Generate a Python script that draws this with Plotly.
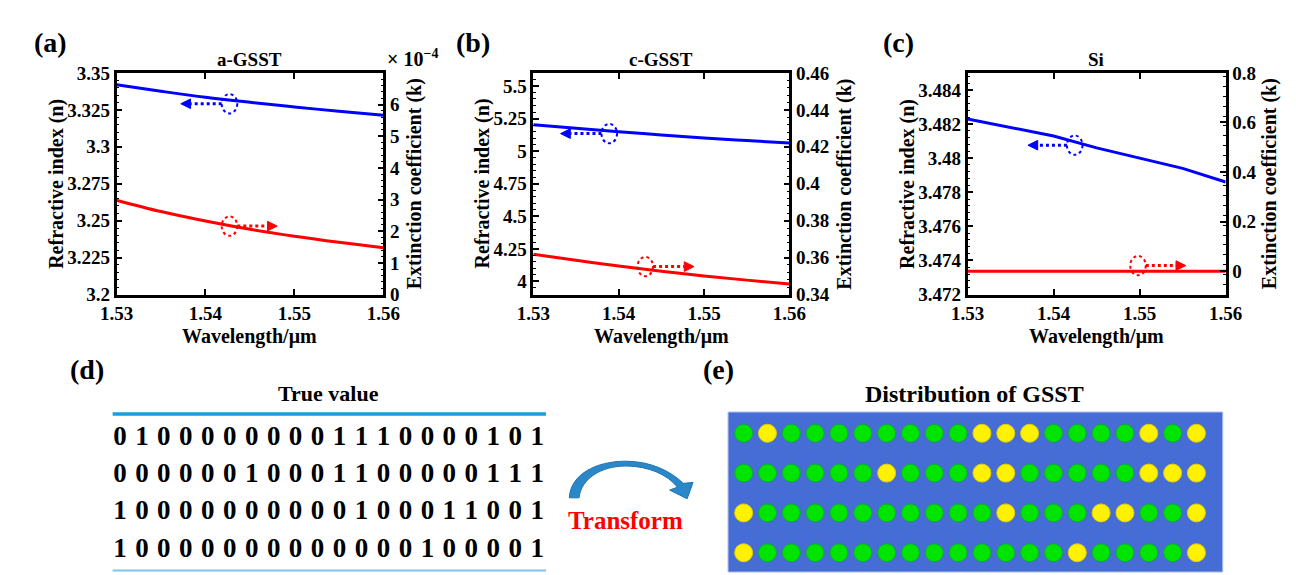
import plotly.graph_objects as go

W, H = 1296, 575

# ---------------- data ----------------
wavelength = [1.530, 1.535, 1.540, 1.545, 1.550, 1.555, 1.560]

n_a = [3.3420, 3.3376, 3.3335, 3.3301, 3.3270, 3.3240, 3.3213]
k_a_e4 = [2.98, 2.62, 2.32, 2.06, 1.84, 1.65, 1.48]  # x 10^-4

n_b = [5.203, 5.175, 5.149, 5.124, 5.100, 5.081, 5.063]
k_b = [0.3618, 0.3585, 0.3554, 0.3526, 0.3500, 0.3478, 0.3457]

n_c = [3.4823, 3.4818, 3.4813, 3.4806, 3.4800, 3.4794, 3.4786]
k_c = [0.0, 0.0, 0.0, 0.0, 0.0, 0.0, 0.0]

x_ticks = [1.53, 1.54, 1.55, 1.56]
x_ticktext = ["1.53", "1.54", "1.55", "1.56"]

na_ticks = [3.2, 3.225, 3.25, 3.275, 3.3, 3.325, 3.35]
na_ticktext = ["3.2", "3.225", "3.25", "3.275", "3.3", "3.325", "3.35"]
ka_ticks = [0, 1, 2, 3, 4, 5, 6]
ka_ticktext = ["0", "1", "2", "3", "4", "5", "6"]

nb_ticks = [4, 4.25, 4.5, 4.75, 5, 5.25, 5.5]
nb_ticktext = ["4", "4.25", "4.5", "4.75", "5", "5.25", "5.5"]
kb_ticks = [0.34, 0.36, 0.38, 0.40, 0.42, 0.44, 0.46]
kb_ticktext = ["0.34", "0.36", "0.38", "0.4", "0.42", "0.44", "0.46"]

nc_ticks = [3.472, 3.474, 3.476, 3.478, 3.480, 3.482, 3.484]
nc_ticktext = ["3.472", "3.474", "3.476", "3.478", "3.48", "3.482", "3.484"]
kc_ticks = [0, 0.2, 0.4, 0.6, 0.8]
kc_ticktext = ["0", "0.2", "0.4", "0.6", "0.8"]

bits_row1 = [0, 1, 0, 0, 0, 0, 0, 0, 0, 0, 1, 1, 1, 0, 0, 0, 0, 1, 0, 1]
bits_row2 = [0, 0, 0, 0, 0, 0, 1, 0, 0, 0, 1, 1, 0, 0, 0, 0, 0, 1, 1, 1]
bits_row3 = [1, 0, 0, 0, 0, 0, 0, 0, 0, 0, 0, 1, 0, 0, 0, 1, 1, 0, 0, 1]
bits_row4 = [1, 0, 0, 0, 0, 0, 0, 0, 0, 0, 0, 0, 0, 0, 1, 0, 0, 0, 0, 1]
bit_rows = [bits_row1, bits_row2, bits_row3, bits_row4]

# ---------------- helpers ----------------
def px(x):
    return x / W

def py(y):
    return 1 - y / H

FONT = "Liberation Serif, DejaVu Serif, serif"
BLUE = "#0000FF"
RED = "#FF0000"

fig = go.Figure()

# ---------------- top panels ----------------
panels = [
    (n_a, k_a_e4, "x", "y", "y2", "spline"),
    (n_b, k_b, "x2", "y3", "y4", "spline"),
    (n_c, k_c, "x3", "y5", "y6", "linear"),
]
for (nv, kv, xa, yl, yr, shp) in panels:
    fig.add_trace(go.Scatter(x=wavelength, y=nv, mode="lines", xaxis=xa, yaxis=yl,
                             line=dict(color=BLUE, width=3, shape=shp),
                             hoverinfo="skip"))
    fig.add_trace(go.Scatter(x=wavelength, y=kv, mode="lines", xaxis=xa, yaxis=yr,
                             line=dict(color=RED, width=3, shape=shp),
                             hoverinfo="skip"))

tickfont = dict(family=FONT, size=19, color="black", weight="bold")
ydom = [py(287), py(57)]

def xaxis_cfg(x0, x1, anchor):
    return dict(domain=[px(x0), px(x1)], anchor=anchor, range=[1.53, 1.56],
                tickmode="array", tickvals=x_ticks, ticktext=x_ticktext,
                showline=True, linewidth=2.5, linecolor="black", mirror="ticks",
                ticks="inside", ticklen=6, tickwidth=1.5, tickcolor="black",
                showgrid=False, zeroline=False, tickfont=tickfont)

def yaxis_cfg(anchor, rng, tv, tt, side="left", overlaying=None, minor_dt=None):
    d = dict(domain=ydom, anchor=anchor, range=rng, side=side,
             tickmode="array", tickvals=tv, ticktext=tt,
             showline=True, linewidth=2.5, linecolor="black",
             ticks="inside", ticklen=6, tickwidth=1.5, tickcolor="black",
             showgrid=False, zeroline=False, tickfont=tickfont)
    if overlaying:
        d["overlaying"] = overlaying
    if minor_dt:
        d["minor"] = dict(ticks="inside", ticklen=3, tickwidth=1, tickcolor="black",
                          tickmode="linear", tick0=rng[0], dtick=minor_dt)
    return d

layout = dict(
    width=W, height=H, margin=dict(l=0, r=0, t=0, b=0),
    paper_bgcolor="white", plot_bgcolor="rgba(0,0,0,0)", showlegend=False,
    font=dict(family=FONT, color="black"),
    xaxis=xaxis_cfg(94, 368, "y"),
    yaxis=yaxis_cfg("x", [3.2, 3.35], na_ticks, na_ticktext, minor_dt=0.005),
    yaxis2=yaxis_cfg("x", [0, 7], ka_ticks, ka_ticktext, side="right", overlaying="y", minor_dt=0.2),
    xaxis2=xaxis_cfg(522, 785, "y3"),
    yaxis3=yaxis_cfg("x2", [3.9, 5.6], nb_ticks, nb_ticktext, minor_dt=0.05),
    yaxis4=yaxis_cfg("x2", [0.34, 0.46], kb_ticks, kb_ticktext, side="right", overlaying="y3", minor_dt=0.004),
    xaxis3=xaxis_cfg(968, 1233, "y5"),
    yaxis5=yaxis_cfg("x3", [3.472, 3.485], nc_ticks, nc_ticktext, minor_dt=0.0004),
    yaxis6=yaxis_cfg("x3", [-0.094, 0.8], kc_ticks, kc_ticktext, side="right", overlaying="y5", minor_dt=0.04),
)

# ---------------- (d) digits ----------------
d_col0, d_col_last = 97.5, 526.0
d_dx = (d_col_last - d_col0) / 19
d_row0, d_row_last = 436.0, 552.0
d_dy = (d_row_last - d_row0) / 3
layout["xaxis4"] = dict(domain=[px(d_col0 - 0.5 * d_dx), px(d_col_last + 0.5 * d_dx)],
                        anchor="y7", range=[-0.5, 19.5], visible=False)
layout["yaxis7"] = dict(domain=[py(d_row_last + 0.5 * d_dy), py(d_row0 - 0.5 * d_dy)],
                        anchor="x4", range=[3.5, -0.5], visible=False)

dx_vals, dy_vals, dtext = [], [], []
for r, row in enumerate(bit_rows):
    for c, b in enumerate(row):
        dx_vals.append(c)
        dy_vals.append(r)
        dtext.append(str(b))
fig.add_trace(go.Scatter(x=dx_vals, y=dy_vals, text=dtext, mode="text",
                         xaxis="x4", yaxis="y7", hoverinfo="skip",
                         textposition="middle center",
                         textfont=dict(family=FONT, size=27, color="black", weight="bold")))

# ---------------- (e) dots ----------------
e_col0, e_col_last = 738.0, 1203.0
e_dx = (e_col_last - e_col0) / 19
e_row0, e_row_last = 431.0, 555.0
e_dy = (e_row_last - e_row0) / 3
layout["xaxis5"] = dict(domain=[px(e_col0 - 0.5 * e_dx), px(e_col_last + 0.5 * e_dx)],
                        anchor="y8", range=[-0.5, 19.5], visible=False)
layout["yaxis8"] = dict(domain=[0, py(e_row0 - 0.5 * e_dy)], anchor="x5",
                        range=[(H - e_row0) / e_dy, -0.5], visible=False)

ex, ey, ecol, eline = [], [], [], []
for r, row in enumerate(bit_rows):
    for c, b in enumerate(row):
        ex.append(c)
        ey.append(r)
        ecol.append("#FFF200" if b == 1 else "#00E400")
        eline.append("#E2CF00" if b == 1 else "#10A83A")
fig.add_trace(go.Scatter(x=ex, y=ey, mode="markers", xaxis="x5", yaxis="y8",
                         hoverinfo="skip",
                         marker=dict(size=18, color=ecol, line=dict(color=eline, width=1))))

# ---------------- shapes ----------------
shapes = []
shapes.append(dict(type="rect", xref="paper", yref="paper",
                   x0=px(722), x1=px(1230), y0=0, y1=py(409),
                   fillcolor="#466DD6", line=dict(color="#A8BBEE", width=1), layer="below"))
shapes.append(dict(type="line", xref="paper", yref="paper", x0=px(90), x1=px(535),
                   y0=py(411), y1=py(411), line=dict(color="#1E9BDC", width=3.5)))
shapes.append(dict(type="line", xref="paper", yref="paper", x0=px(90), x1=px(535),
                   y0=py(573.5), y1=py(573.5), line=dict(color="#7FC4EC", width=2)))

markers = [
    (210, 89, -1, 160, BLUE),
    (210, 216, 1, 259, RED),
    (600, 120, -1, 550, BLUE),
    (637, 258, 1, 687, RED),
    (1078, 132, -1, 1030, BLUE),
    (1143, 257, 1, 1192, RED),
]
for cx, cy, direc, tip, col in markers:
    rx, ry = 8, 10
    shapes.append(dict(type="circle", xref="paper", yref="paper",
                       x0=px(cx - rx), x1=px(cx + rx), y0=py(cy + ry), y1=py(cy - ry),
                       line=dict(color=col, width=2, dash="dot")))
    start = cx + direc * rx
    base = tip - direc * 10
    shapes.append(dict(type="line", xref="paper", yref="paper",
                       x0=px(start), x1=px(base), y0=py(cy), y1=py(cy),
                       line=dict(color=col, width=3, dash="dot")))
    path = "M {:.5f},{:.5f} L {:.5f},{:.5f} L {:.5f},{:.5f} Z".format(
        px(base), py(cy - 5), px(tip), py(cy), px(base), py(cy + 5))
    shapes.append(dict(type="path", xref="paper", yref="paper", path=path,
                       fillcolor=col, line=dict(color=col, width=1)))

# curved "Transform" arrow (tapered band with head)
arrow_pts = [
    ("M", [(559, 498)]),
    ("C", [(560, 474), (586, 460), (617, 460)]),
    ("C", [(642, 460), (663, 470), (676, 483)]),
    ("L", [(686, 482)]),
    ("L", [(680, 499)]),
    ("L", [(662, 490)]),
    ("L", [(670, 487)]),
    ("C", [(660, 474), (640, 465), (617, 465)]),
    ("C", [(592, 465), (571, 478), (569, 498)]),
]
p = ""
for cmd, pts in arrow_pts:
    p += cmd + " " + " ".join("{:.5f},{:.5f}".format(px(a), py(b)) for a, b in pts) + " "
p += "Z"
shapes.append(dict(type="path", xref="paper", yref="paper", path=p,
                   fillcolor="#2A88C9", line=dict(color="#1F73B3", width=1)))
layout["shapes"] = shapes

# ---------------- annotations ----------------
ann = []
def text(x, y, s, size, color="black", angle=0, weight="bold"):
    ann.append(dict(x=px(x), y=py(y), xref="paper", yref="paper", text=s, showarrow=False,
                    xanchor="center", yanchor="middle", textangle=angle,
                    font=dict(family=FONT, size=size, color=color, weight=weight)))

text(26, 25, "(a)", 28)
text(460, 25, "(b)", 28)
text(897, 25, "(c)", 28)
text(231, 43, "a-GSST", 19)
text(653, 43, "c-GSST", 19)
text(1100, 43, "Si", 19)
text(398, 41, "× 10<sup>−4</sup>", 20)

for xl, xr, tl, tr in [(94, 368, 33, 400), (522, 785, 470, 842), (968, 1233, 907, 1278)]:
    text(tl, 172, "Refractive index (n)", 20, angle=-90)
    text(tr, 172, "Extinction coefficient (k)", 20, angle=-90)
    text((xl + xr) / 2, 331, "Wavelength/μm", 20)

text(64, 365, "(d)", 28)
text(312, 390, "True value", 22)
text(617, 522, "Transform", 25, color="#FF0000")
text(712, 365, "(e)", 28)
text(975, 390, "Distribution of GSST", 24)
layout["annotations"] = ann

fig.update_layout(**layout)
fig.write_html("out.html")
